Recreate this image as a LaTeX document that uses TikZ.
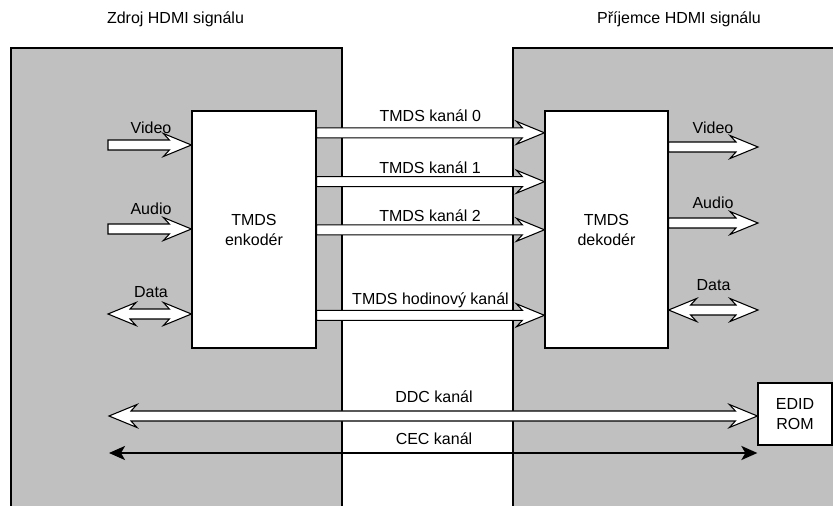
\documentclass[tikz,border=0pt]{standalone}
\usepackage{fontspec}
\setmainfont{Liberation Sans}
\usetikzlibrary{arrows.meta,calc}

\definecolor{panelgray}{RGB}{192,192,192}

\tikzset{
  panel/.style={draw, fill=panelgray, line width=0.9pt},
  box/.style={draw, fill=white, line width=0.9pt, align=center, inner sep=0pt},
  fat/.style={draw, fill=white, line width=0.8pt, line join=miter},
  lbl/.style={anchor=base},
  cec/.style={line width=1.7pt,
    {Stealth[length=12pt,width=10.5pt,inset=3pt]}-{Stealth[length=12pt,width=10.5pt,inset=3pt]}}
}

% hollow arrow: tail #1, tip #2 (pointing right)
\newcommand{\fatarrow}[2]{%
  \path[fat] ($(#1)+(0,-5)$) -- ($(#2)+(-22,-5)$) -- ($(#2)+(-28,-11.5)$) -- (#2)
    -- ($(#2)+(-28,11.5)$) -- ($(#2)+(-22,5)$) -- ($(#1)+(0,5)$) -- cycle;}
% hollow arrow with two heads: left tip #1, right tip #2
\newcommand{\fatdarrow}[2]{%
  \path[fat] (#1) -- ($(#1)+(28,-11.5)$) -- ($(#1)+(22,-5)$) -- ($(#2)+(-22,-5)$)
    -- ($(#2)+(-28,-11.5)$) -- (#2) -- ($(#2)+(-28,11.5)$) -- ($(#2)+(-22,5)$)
    -- ($(#1)+(22,5)$) -- ($(#1)+(28,11.5)$) -- cycle;}

\begin{document}
\begin{tikzpicture}[x=0.75pt, y=-0.75pt, font=\fontsize{12}{15}\selectfont]
      \useasboundingbox (0,0) rectangle (833,506);
      \draw[panel] (11,510) |- (342,48) -- (342,510);
      \draw[panel] (513,510) |- (845,48) -- (845,510);

      \node[box, minimum width=93pt, minimum height=177.75pt] (enc) at (254,229.5) {TMDS\\enkodér};
      \node[box, minimum width=92.25pt, minimum height=177.75pt] (dec) at (606.5,229.5) {TMDS\\dekodér};
      \node[box, minimum width=55.5pt, minimum height=46.5pt] (edid) at (795,414) {EDID\\ROM};

      \coordinate (v_in) at (108,145);
      \coordinate (a_in) at (108,229);
      \coordinate (d_in) at (108,314);
      \coordinate (v_out) at (758,147);
      \coordinate (a_out) at (758,223);
      \coordinate (d_out) at (758,310);
      \coordinate (ch_0) at (0,132.8);
      \coordinate (ch_1) at (0,181.7);
      \coordinate (ch_2) at (0,229.8);
      \coordinate (ch_clk) at (0,315.3);
      \coordinate (ddc_l) at (109,416);
      \coordinate (cec_l) at (109,453);

      \fatarrow{v_in}{enc.west |- v_in}
      \fatarrow{a_in}{enc.west |- a_in}
      \fatdarrow{d_in}{enc.west |- d_in}
      \fatarrow{enc.east |- ch_0}{dec.west |- ch_0}
      \fatarrow{enc.east |- ch_1}{dec.west |- ch_1}
      \fatarrow{enc.east |- ch_2}{dec.west |- ch_2}
      \fatarrow{enc.east |- ch_clk}{dec.west |- ch_clk}
      \fatarrow{dec.east |- v_out}{v_out}
      \fatarrow{dec.east |- a_out}{a_out}
      \fatdarrow{dec.east |- d_out}{d_out}
      \fatdarrow{ddc_l}{edid.west |- ddc_l}
      \draw[cec] (cec_l) -- (edid.west |- cec_l);

      \node[lbl] (t_src) at (175.5,24) {Zdroj HDMI signálu};
      \node[lbl] (t_snk) at (679,24) {Příjemce HDMI signálu};
      \node[lbl] (lv_in) at (151,133.5) {Video};
      \node[lbl] (la_in) at (151,215) {Audio};
      \node[lbl] (ld_in) at (151,298) {Data};
      \node[lbl] (lv_out) at (713,133.3) {Video};
      \node[lbl] (la_out) at (713,209) {Audio};
      \node[lbl] (ld_out) at (713.5,291) {Data};
      \node[lbl] (l_ch0) at (430.3,121.7) {TMDS kanál 0};
      \node[lbl] (l_ch1) at (430,173.3) {TMDS kanál 1};
      \node[lbl] (l_ch2) at (430,221.7) {TMDS kanál 2};
      \node[lbl] (l_clk) at (430.5,305) {TMDS hodinový kanál};
      \node[lbl] (l_ddc) at (434,402.7) {DDC kanál};
      \node[lbl] (l_cec) at (434,445) {CEC kanál};
\end{tikzpicture}
\end{document}
